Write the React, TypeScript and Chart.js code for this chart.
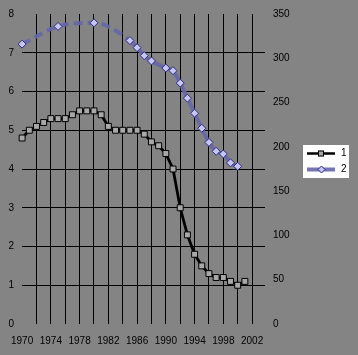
import React, { useEffect, useRef } from 'react';
import { Chart, registerables } from 'chart.js';

Chart.register(...registerables);

// ---- data ----
const years = [
  1970, 1971, 1972, 1973, 1974, 1975, 1976, 1977, 1978, 1979,
  1980, 1981, 1982, 1983, 1984, 1985, 1986, 1987, 1988, 1989,
  1990, 1991, 1992, 1993, 1994, 1995, 1996, 1997, 1998, 1999,
  2000, 2001,
];
const series1 = [
  4.8, 5.0, 5.1, 5.2, 5.3, 5.3, 5.3, 5.4, 5.5, 5.5,
  5.5, 5.4, 5.1, 5.0, 5.0, 5.0, 5.0, 4.9, 4.7, 4.6,
  4.4, 4.0, 3.0, 2.3, 1.8, 1.5, 1.3, 1.2, 1.2, 1.1,
  1.0, 1.1,
];
const series2: (number | null)[] = [
  316, null, null, null, null, 336, null, null, null, null,
  340, null, null, null, null, 320, 312, 303, 297, null,
  289, 286, 272, 255, 238, 221, 205, 195, 192, 182,
  178, null,
];
const seriesNames = ['1', '2'];
const xTickValues = [
  1970, 1972, 1974, 1976, 1978, 1980, 1982, 1984, 1986, 1988,
  1990, 1992, 1994, 1996, 1998, 2000, 2002,
];
const xLabelStep = 4;
const leftMin = 0, leftMax = 8, leftStep = 1;
const rightMin = 0, rightMax = 350, rightStep = 50;

// ---- styles ----
const BG = '#848484';
const FONT = { family: '"Liberation Sans", Arial, sans-serif', size: 10 };
const S1_LINE = '#000000';
const S1_FILL = '#a8a8a8';
const S2_LINE = 'rgba(102,102,170,0.9)';
const S2_FILL = '#c6c6f0';
const S2_BORDER = '#2c2c84';

export default function App() {
  const ref = useRef<HTMLCanvasElement>(null);

  useEffect(() => {
    const canvas = ref.current;
    if (!canvas) return;

    const bgPlugin = {
      id: 'bgFill',
      beforeDraw(chart: any) {
        const c = chart.ctx;
        c.save();
        c.fillStyle = BG;
        c.fillRect(0, 0, chart.width, chart.height);
        c.restore();
      },
    };

    const legendPlugin = {
      id: 'boxLegend',
      afterDraw(chart: any) {
        const c = chart.ctx;
        c.save();
        const bx = 303, by = 145, bw = 46, bh = 33;
        c.fillStyle = '#ffffff';
        c.fillRect(bx, by, bw, bh);
        // item 1
        const y1 = 153.5;
        c.strokeStyle = S1_LINE;
        c.lineWidth = 2.5;
        c.beginPath();
        c.moveTo(307, y1);
        c.lineTo(335, y1);
        c.stroke();
        c.fillStyle = S1_FILL;
        c.lineWidth = 1;
        c.fillRect(318, y1 - 3, 6, 6);
        c.strokeRect(318.5, y1 - 2.5, 5, 5);
        // item 2
        const y2 = 169.5;
        c.strokeStyle = S2_LINE;
        c.lineWidth = 4;
        c.beginPath();
        c.moveTo(307, y2);
        c.lineTo(335, y2);
        c.stroke();
        c.fillStyle = S2_FILL;
        c.strokeStyle = S2_BORDER;
        c.lineWidth = 1;
        c.beginPath();
        c.moveTo(321.5, y2 - 3.5);
        c.lineTo(325, y2);
        c.lineTo(321.5, y2 + 3.5);
        c.lineTo(318, y2);
        c.closePath();
        c.fill();
        c.stroke();
        // labels
        c.fillStyle = '#000';
        c.font = `${FONT.size}px ${FONT.family}`;
        c.textAlign = 'left';
        c.textBaseline = 'middle';
        c.fillText(seriesNames[0], 341, y1);
        c.fillText(seriesNames[1], 341, y2);
        c.restore();
      },
    };

    const d1 = years.map((x, i) => ({ x, y: series1[i] }));
    const d2 = years
      .map((x, i) => ({ x, y: series2[i] }))
      .filter((p) => p.y !== null) as { x: number; y: number }[];

    const chart = new Chart(canvas, {
      type: 'line',
      data: {
        datasets: [
          {
            label: seriesNames[1],
            data: d2,
            yAxisID: 'y1',
            clip: false,
            borderColor: S2_LINE,
            borderWidth: 4,
            pointStyle: 'rectRot',
            pointRadius: 4,
            pointBackgroundColor: S2_FILL,
            pointBorderColor: S2_BORDER,
            pointBorderWidth: 1,
            cubicInterpolationMode: 'monotone',
            spanGaps: true,
            segment: {
              borderDash: (ctx: any) =>
                ctx.p1.parsed.x - ctx.p0.parsed.x > 2 ? [9, 5] : undefined,
            },
          } as any,
          {
            label: seriesNames[0],
            data: d1,
            yAxisID: 'y',
            clip: false,
            borderColor: S1_LINE,
            borderWidth: 2.8,
            pointStyle: 'rect',
            pointRadius: 4.2,
            pointBackgroundColor: S1_FILL,
            pointBorderColor: '#000',
            pointBorderWidth: 1,
            tension: 0,
          } as any,
        ],
      },
      options: {
        responsive: false,
        animation: false,
        layout: { padding: { top: 14, left: 0, right: 0, bottom: 0 } },
        plugins: {
          legend: { display: false },
          tooltip: { enabled: false },
        },
        scales: {
          x: {
            type: 'linear',
            min: 1970,
            max: 2003.8,
            afterBuildTicks: (s: any) => {
              s.ticks = xTickValues.map((v) => ({ value: v }));
            },
            afterFit: (s: any) => {
              s.height = 31;
            },
            ticks: {
              autoSkip: false,
              maxRotation: 0,
              padding: 11,
              color: '#000',
              font: FONT,
              callback: (v: any) =>
                (Number(v) - xTickValues[0]) % xLabelStep === 0 ? String(v) : '',
            },
            grid: {
              drawTicks: false,
              color: (ctx: any) =>
                ctx.tick && ctx.tick.value === xTickValues[0] ? 'rgba(0,0,0,0)' : '#000',
              lineWidth: 1,
            },
            border: { display: false },
          },
          y: {
            position: 'left',
            min: leftMin,
            max: leftMax,
            afterFit: (s: any) => {
              s.width = 20;
            },
            ticks: { stepSize: leftStep, padding: 8, color: '#000', font: FONT },
            grid: {
              drawTicks: false,
              color: (ctx: any) =>
                ctx.tick && (ctx.tick.value === leftMin || ctx.tick.value === leftMax)
                  ? 'rgba(0,0,0,0)'
                  : '#000',
              lineWidth: 1,
            },
            border: { display: false },
          },
          y1: {
            position: 'right',
            min: rightMin,
            max: rightMax,
            afterFit: (s: any) => {
              s.width = 93;
            },
            ticks: { stepSize: rightStep, padding: 8, color: '#000', font: FONT },
            grid: { display: false, drawTicks: false },
            border: { display: false },
          },
        } as any,
      },
      plugins: [bgPlugin, legendPlugin],
    });

    return () => chart.destroy();
  }, []);

  return (
    <div
      style={{
        position: 'fixed',
        left: 0,
        top: 0,
        width: 358,
        height: 355,
        background: BG,
      }}
    >
      <canvas ref={ref} width={358} height={355} style={{ display: 'block' }} />
    </div>
  );
}
